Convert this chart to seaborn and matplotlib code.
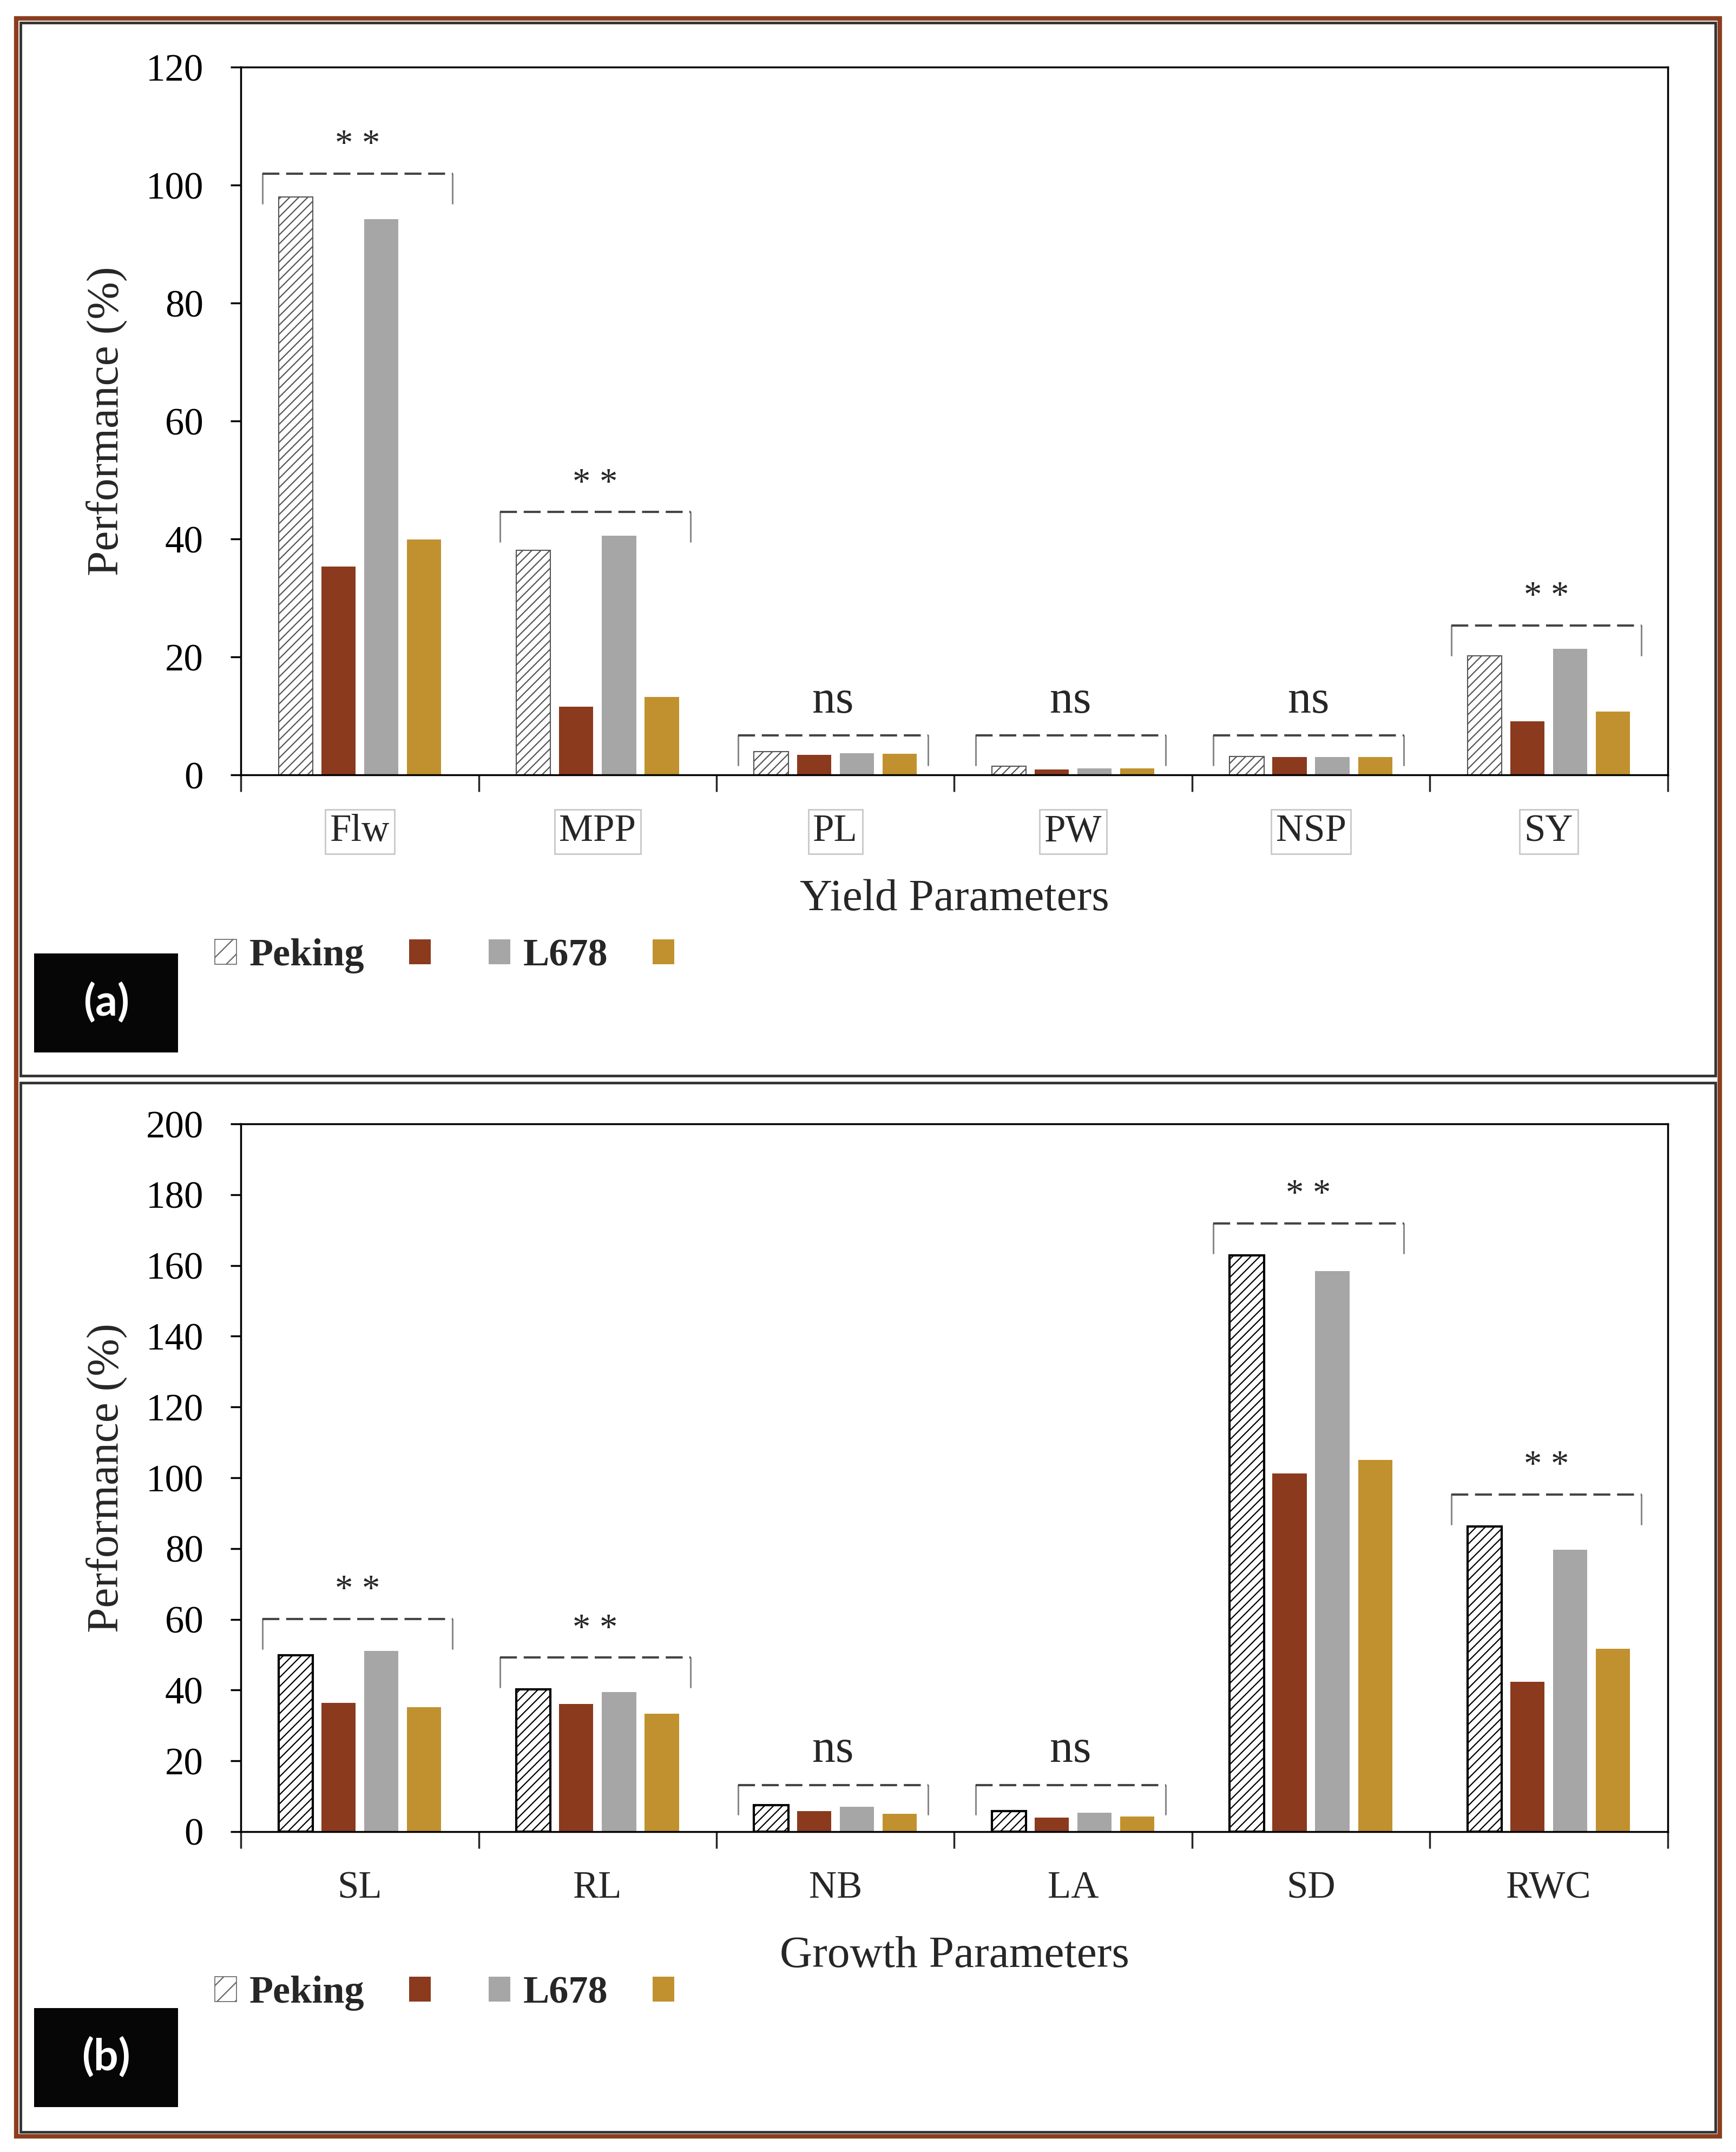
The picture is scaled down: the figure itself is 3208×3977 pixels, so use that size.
import numpy as np
import pandas as pd
import matplotlib.pyplot as plt
import seaborn as sns
from matplotlib.patches import Patch, Rectangle

# series (hue) names, only two of them are labelled in the legend
genotypes = ['Peking', 'Peking_s', 'L678', 'L678_s']
legend_labels = ['Peking', '', 'L678', '']
bar_colors = ['white', '#8B3A1E', '#A6A6A6', '#C0912E']

# panel (a)
yield_params = ['Flw', 'MPP', 'PL', 'PW', 'NSP', 'SY']
yield_peking = [98.0, 38.1, 4.0, 1.5, 3.1, 20.2]
yield_peking_s = [35.3, 11.6, 3.4, 0.9, 3.0, 9.1]
yield_l678 = [94.2, 40.6, 3.7, 1.1, 3.0, 21.4]
yield_l678_s = [39.9, 13.2, 3.6, 1.1, 3.0, 10.7]
yield_sig = ['* *', '* *', 'ns', 'ns', 'ns', '* *']

# panel (b)
growth_params = ['SL', 'RL', 'NB', 'LA', 'SD', 'RWC']
growth_peking = [49.9, 40.2, 7.4, 5.8, 162.9, 86.3]
growth_peking_s = [36.4, 36.0, 5.8, 3.9, 101.2, 42.4]
growth_l678 = [51.1, 39.5, 7.0, 5.4, 158.5, 79.6]
growth_l678_s = [35.2, 33.3, 5.0, 4.3, 105.1, 51.6]
growth_sig = ['* *', '* *', 'ns', 'ns', '* *', '* *']

sns.set_theme(style='white')
plt.rcParams['font.family'] = ['Liberation Serif', 'DejaVu Serif']
plt.rcParams['hatch.linewidth'] = 1.6


def draw_panel(ax, params, series, sig, ymax, xlabel, boxed, peking_edge, peking_lw):
    df = pd.DataFrame({
        'param': params * len(genotypes),
        'genotype': np.repeat(genotypes, len(params)),
        'value': np.concatenate(series),
    })
    sns.barplot(data=df, x='param', y='value', hue='genotype', hue_order=genotypes,
                palette=dict(zip(genotypes, bar_colors)), width=0.72, gap=0.2,
                saturation=1, errorbar=None, legend=False, ax=ax)
    for bar in ax.containers[0]:
        bar.set_hatch('//')
        bar.set_edgecolor(peking_edge)
        bar.set_linewidth(peking_lw)
    for cont in ax.containers[1:]:
        for bar in cont:
            bar.set_linewidth(0)

    ax.set_xlim(-0.5, len(params) - 0.5)
    ax.set_ylim(0, ymax)
    ax.set_yticks(np.arange(0, ymax + 1, 20))
    ax.set_xticks(range(len(params)))
    ax.set_xticks(np.arange(-0.5, len(params), 1), minor=True)
    ax.tick_params(axis='y', which='major', direction='out', length=14, width=2.5,
                   pad=36, labelsize=51, left=True, colors='black')
    ax.tick_params(axis='x', which='major', length=0, pad=52, labelsize=51)
    ax.tick_params(axis='x', which='minor', direction='out', length=22, width=2.5,
                   bottom=True)
    if boxed:
        for lab in ax.get_xticklabels():
            lab.set_bbox(dict(boxstyle='square,pad=0.12', fc='white', ec='#c8c8c8', lw=2))

    ax.set_xlabel(xlabel, fontsize=60, va='center')
    ax.xaxis.set_label_coords(0.5, -0.176)
    ax.set_ylabel('Performance (%)', fontsize=60, va='center')
    ax.yaxis.set_label_coords(-0.094, 0.5)
    for s in ax.spines.values():
        s.set_color('black')
        s.set_linewidth(2.5)

    # significance brackets
    vals = np.array(series)
    off = 0.033 * ymax if ymax < 150 else 0.045 * ymax
    floor = 0.056 * ymax if ymax < 150 else 0.066 * ymax
    tick = 0.042 * ymax
    for i, s in enumerate(sig):
        level = max(vals[:, i].max() + off, floor)
        if s == 'ns':
            level = max(vals[:, i].max() + 0.6 * off, floor)
        x0, x1 = i - 0.41, i + 0.39
        ax.plot([x0, x0], [level - tick, level], color='#888888', lw=2.2)
        ax.plot([x1, x1], [level - tick, level], color='#888888', lw=2.2)
        ax.plot([x0, x1], [level, level], color='#444444', lw=3, dashes=(7.5, 3))
        if s == 'ns':
            ax.annotate(s, (i - 0.01, level), xytext=(0, 63), textcoords='offset pixels',
                        ha='center', va='center', fontsize=62)
        else:
            ax.annotate(s, (i - 0.01, level), xytext=(0, 52), textcoords='offset pixels',
                        ha='center', va='center', fontsize=48)


fig = plt.figure(figsize=(32.08, 39.77), dpi=100)
ax_a = fig.add_axes([0.1388, 0.6399, 0.8218, 0.3289])
ax_b = fig.add_axes([0.1388, 0.1489, 0.8218, 0.3288])

draw_panel(ax_a, yield_params,
           [yield_peking, yield_peking_s, yield_l678, yield_l678_s],
           yield_sig, 120, 'Yield Parameters', True, '#555555', 1.5)
draw_panel(ax_b, growth_params,
           [growth_peking, growth_peking_s, growth_l678, growth_l678_s],
           growth_sig, 200, 'Growth Parameters', False, 'black', 3.0)

# legends
handles = [Patch(facecolor='white', edgecolor='#666666', hatch='/', lw=1.2)]
handles += [Patch(facecolor=c, edgecolor='none') for c in bar_colors[1:]]
for ax, ly in [(ax_a, 0.5557), (ax_b, 0.0737)]:
    ax.legend(handles, legend_labels, ncol=4, loc='center left',
              bbox_to_anchor=(0.1238, ly), bbox_transform=fig.transFigure,
              frameon=False, borderpad=0, borderaxespad=0,
              handlelength=0.55, handleheight=0.6, handletextpad=0.33,
              columnspacing=1.15, prop={'size': 52, 'weight': 'bold'})

# panel tags
for tag, y0 in [('(a)', 0.5109), ('(b)', 0.0209)]:
    fig.add_artist(Rectangle((0.0197, y0), 0.083, 0.046, transform=fig.transFigure,
                             facecolor='#060606', edgecolor='none'))
    fig.text(0.0197 + 0.0415, y0 + 0.023, tag, color='white', fontsize=58,
             fontweight='bold', family=['Lato', 'DejaVu Sans'], ha='center', va='center')

# frames
W, H = 3208, 3977
def frame(x0, y0, x1, y1, color, lw):
    fig.add_artist(Rectangle((x0 / W, 1 - y1 / H), (x1 - x0) / W, (y1 - y0) / H,
                             transform=fig.transFigure, fill=False,
                             edgecolor=color, linewidth=lw))

frame(30, 34, 3178, 3948, '#8B3E1F', 6)
frame(38, 42, 3170, 1988, '#333333', 3.5)
frame(38, 2001, 3170, 3940, '#333333', 3.5)

fig.savefig('out.png', dpi=100)
